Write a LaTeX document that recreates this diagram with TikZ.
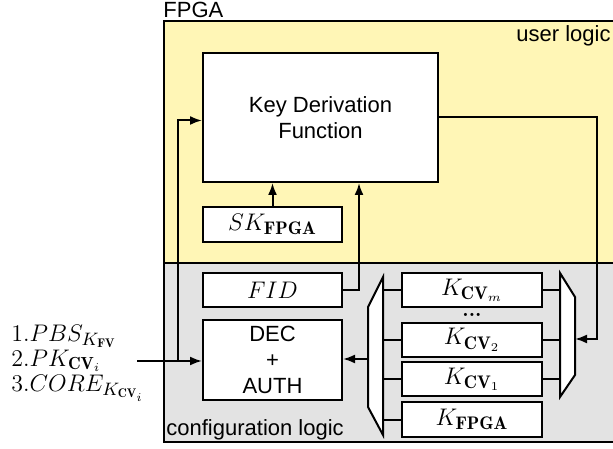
\documentclass[tikz,border=0pt]{standalone}
\usepackage{amsmath}
\usepackage{fontspec}
\setsansfont{Liberation Sans}
\usetikzlibrary{arrows.meta, calc, positioning}

\definecolor{userbg}{HTML}{FFF6B6}
\definecolor{cfgbg}{HTML}{E3E3E3}

\tikzset{
  wire/.style={line width=1pt},
  blk/.style={draw, fill=white, line width=1pt, inner sep=0pt},
  txt/.style={font=\sffamily\fontsize{11}{13}\selectfont, inner sep=0pt},
  mth/.style={font=\fontsize{13}{15}\selectfont},
  keyblk/.style={blk, mth, minimum width=70pt, minimum height=17pt},
}

\begin{document}
\begin{tikzpicture}[x=0.5pt, y=0.5pt, >={Latex[length=6pt,width=4.5pt]}]
  \useasboundingbox (0,0) rectangle (613,448);
  \clip (0,0) rectangle (613,448);

  % FPGA with user part on top, configuration part below
  \fill[userbg] (164,185) rectangle (620,427);
  \fill[cfgbg] (164,6) rectangle (620,185);
  \draw[wire] (164,6) rectangle (620,427);
  \draw[line width=1.3pt] (164,185) -- (620,185);
  \node[txt, anchor=base west] (fpgalbl) at (163,430) {FPGA};
  \node[txt, anchor=base east] (userlbl) at (611,406) {user logic};
  \node[txt, anchor=base west] (cfglbl) at (166,13) {configuration logic};

  % user logic
  \node[blk, txt, align=center, minimum width=117.5pt, minimum height=64.5pt] (kdf) at (320.5,330.5) {Key Derivation\\Function};
  \node[blk, mth, minimum width=69.5pt, minimum height=17.5pt] (sk) at (272.5,223.5) {$SK_{\mathbf{FPGA}}$};

  % configuration logic
  \node[blk, mth, minimum width=69.5pt, minimum height=17pt] (fid) at (272.5,158) {$FID$};
  \node[blk, txt, align=center, minimum width=69.5pt, minimum height=40pt] (dec) at (272.5,88) {DEC\\+\\AUTH};

  % key store
  \node[keyblk] (kcvm) at (472,157.5) {$K_{\mathbf{CV}_m}$};
  \node[font=\bfseries] (kdots) at (472,133) {...};
  \node[keyblk] (kcv2) at (472,108) {$K_{\mathbf{CV}_2}$};
  \node[keyblk] (kcv1) at (472,68.5) {$K_{\mathbf{CV}_1}$};
  \node[keyblk] (kfpga) at (472,28.5) {$K_{\mathbf{FPGA}}$};

  % multiplexers
  \draw[wire, fill=white] (383,171) -- (383,13) -- (368,41) -- (368,141) -- cycle;
  \draw[wire, fill=white] (560,175) -- (575,151) -- (575,73) -- (560,51) -- cycle;
  \coordinate (lmuxin) at (383,0);
  \coordinate (lmuxout) at (368,89);
  \coordinate (rmuxin) at (560,0);
  \coordinate (rmuxsel) at (575,109);

  \foreach \k in {kcvm,kcv2,kcv1,kfpga}
    \draw[wire] (\k.west) -- (\k.west -| lmuxin);
  \foreach \k in {kcvm,kcv2,kcv1}
    \draw[wire] (\k.east) -- (\k.east -| rmuxin);

  % inputs
  \node[anchor=west, align=left, inner sep=0pt, font=\fontsize{12.5}{12.5}\selectfont] (inlbl) at (11,85)
    {$1.PBS_{K_{\mathbf{FV}}}$\\$2.PK_{\mathbf{CV}_i}$\\$3.CORE_{K_{\mathbf{CV}_i}}$};
  \coordinate (src) at (137,87);
  \coordinate (split) at (178,87);

  % connections
  \draw[wire, ->] (src) -- (src -| dec.west);
  \draw[wire, ->] (split) |- ($(kdf.west)+(0,-3)$);
  \draw[wire, ->] (sk.north) -- (sk.north |- kdf.south);
  \draw[wire, ->] (fid.east) -| ($(kdf.south)+(38.5,0)$);
  \draw[wire, ->] (kdf.east) -| (597,109) -- (rmuxsel);
  \draw[wire, ->] (lmuxout) -- (lmuxout -| dec.east);
\end{tikzpicture}
\end{document}
